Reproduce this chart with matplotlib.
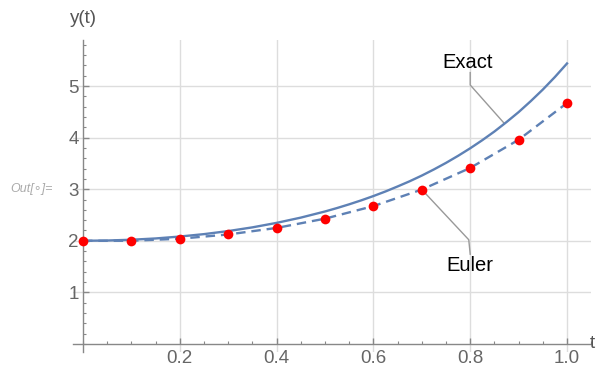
import matplotlib
matplotlib.use('Agg')
from matplotlib import pyplot as plt
from matplotlib.ticker import MultipleLocator, FixedLocator

# exact solution y(t)
t_exact = [0.0, 0.05, 0.1, 0.15, 0.2, 0.25, 0.3, 0.35, 0.4, 0.45, 0.5,
           0.525, 0.55, 0.575, 0.6, 0.625, 0.65, 0.675, 0.7, 0.725, 0.75,
           0.775, 0.8, 0.825, 0.85, 0.875, 0.9, 0.925, 0.95, 0.975, 1.0]
y_exact = [2.000, 2.005, 2.020, 2.045, 2.082, 2.129, 2.188, 2.260, 2.347, 2.449, 2.568,
           2.635, 2.707, 2.784, 2.867, 2.956, 3.053, 3.154, 3.264, 3.383, 3.510,
           3.647, 3.793, 3.950, 4.118, 4.301, 4.494, 4.706, 4.931, 5.175, 5.437]

# Euler steps
t_euler = [0.0, 0.1, 0.2, 0.3, 0.4, 0.5, 0.6, 0.7, 0.8, 0.9, 1.0]
y_euler = [2.000, 2.000, 2.040, 2.122, 2.249, 2.429, 2.672, 2.993, 3.412, 3.958, 4.670]

x_labels = [0.2, 0.4, 0.6, 0.8, 1.0]
y_labels = [1, 2, 3, 4, 5]

blue = '#5E81B5'
gray = '#888888'
plt.rcParams['font.family'] = ['Liberation Sans', 'DejaVu Sans']

fig = plt.figure(figsize=(5.97, 3.70), dpi=100)
ax = fig.add_axes([0.1228, 0.0495, 0.8675, 0.8435])

ax.plot(t_exact, y_exact, color=blue, lw=1.7, zorder=3)
ax.plot(t_euler, y_euler, color=blue, lw=1.7, ls=(0, (4, 2.5)), zorder=3)
ax.plot(t_euler, y_euler, 'o', color='#FF0000', ms=7, mec='none', zorder=4)

ax.set_xlim(-0.02, 1.05)
ax.set_ylim(-0.15, 5.9)

ax.xaxis.set_major_locator(FixedLocator(x_labels))
ax.xaxis.set_minor_locator(MultipleLocator(0.05))
ax.yaxis.set_major_locator(FixedLocator(y_labels))
ax.yaxis.set_minor_locator(MultipleLocator(0.2))
ax.set_xticklabels([f'{v:.1f}' for v in x_labels])
ax.set_yticklabels([str(v) for v in y_labels])

ax.grid(True, which='major', color='#dddddd', lw=1, zorder=0)

for s in ['top', 'right']:
    ax.spines[s].set_visible(False)
ax.spines['left'].set_position(('data', 0))
ax.spines['bottom'].set_position(('data', 0))
for s in ['left', 'bottom']:
    ax.spines[s].set_color(gray)
    ax.spines[s].set_linewidth(1)

ax.tick_params(which='both', direction='in', color=gray, labelcolor='#666666',
               labelsize=13.5)
ax.tick_params(which='major', length=4, width=1)
ax.tick_params(which='minor', length=2.5, width=0.8)
ax.tick_params(axis='y', pad=3)
ax.tick_params(axis='x', pad=4)

# axis labels
ax.text(0, 1.04, 'y(t)', transform=ax.get_xaxis_transform(), ha='center',
        va='bottom', fontsize=13.5, color='#555555')
ax.text(1.046, 0, 't', ha='left', va='center', fontsize=13.5, color='#555555')

# labels with leader lines
ax.plot([0.800, 0.800, 0.870], [5.26, 5.02, 4.28], color='#999999', lw=1, zorder=2)
ax.text(0.795, 5.45, 'Exact', ha='center', va='center', fontsize=14.5)
ax.plot([0.700, 0.797, 0.800], [2.993, 2.02, 1.74], color='#999999', lw=1, zorder=2)
ax.text(0.800, 1.52, 'Euler', ha='center', va='center', fontsize=14.5)

fig.text(0.017, 0.49, 'Out[\u2218]=', fontsize=9, style='italic', color='#aaaaaa',
         ha='left', va='center')

fig.savefig('out.png', dpi=100)
